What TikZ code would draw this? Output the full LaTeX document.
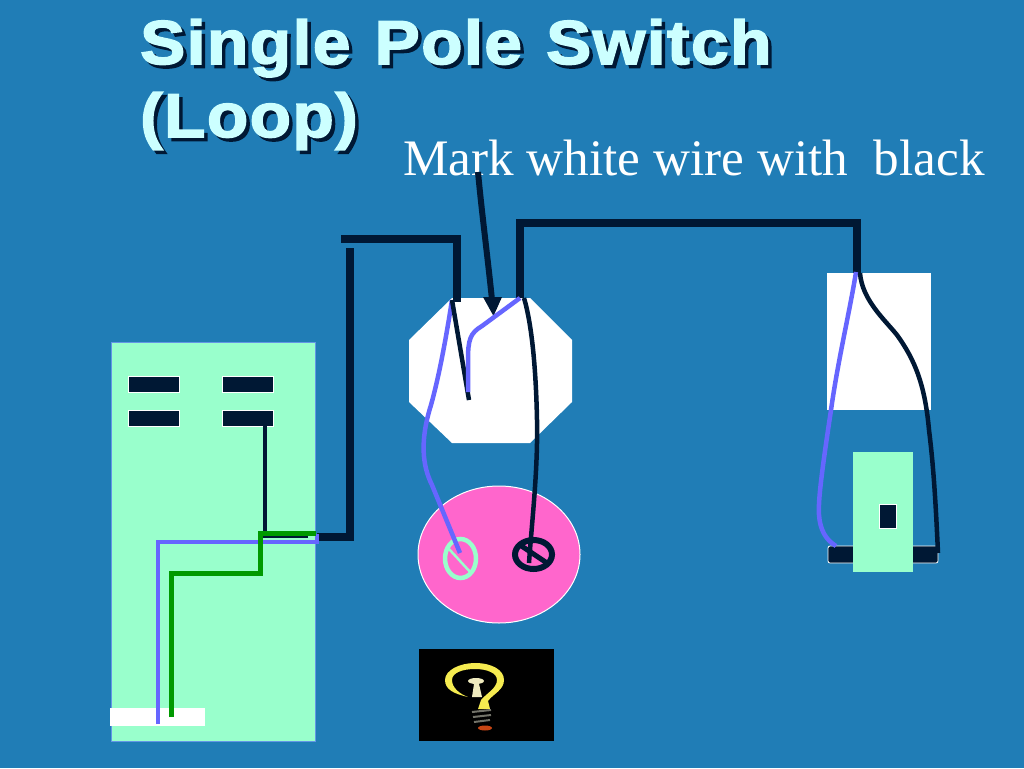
\documentclass[tikz,border=0pt]{standalone}
\usepackage{fontspec}
\newfontfamily\titlefont[LetterSpace=2.4,WordSpace=1.2,BoldFeatures={FakeBold=2.5,FakeStretch=1.09}]{Liberation Sans}
\newfontfamily\notefont{Liberation Serif}
\definecolor{bgblue}{RGB}{32,125,182}
\definecolor{mint}{RGB}{153,255,204}
\definecolor{navy}{RGB}{0,24,52}
\definecolor{wireblue}{RGB}{102,102,255}
\definecolor{wiregreen}{RGB}{0,153,0}
\definecolor{pink}{RGB}{255,102,204}
\definecolor{titlecol}{RGB}{204,255,255}
\definecolor{edgeblue}{RGB}{100,150,230}
\definecolor{bulbyellow}{RGB}{245,235,80}
\definecolor{filament}{RGB}{240,235,190}
\definecolor{basegray}{RGB}{115,115,105}
\definecolor{basered}{RGB}{200,70,20}
\newcommand{\shadowed}[1]{\rlap{\kern3.5pt\raisebox{-3.5pt}{\color{navy}#1}}{\color{titlecol}#1}}
\tikzset{
  x=1pt,y=-1pt,
  thickwire/.style={navy,line width=8pt,miter limit=10},
  bluewire/.style={wireblue,line width=4.5pt,line join=round},
  blackwire/.style={navy,line width=4.5pt,line join=round},
  greenwire/.style={wiregreen,line width=5pt},
  breaker/.style={fill=navy,draw=white,line width=0.5pt},
  terminal/.style={fill=navy,draw=white,line width=0.8pt,rounded corners=2pt},
  titletext/.style={inner sep=0pt,anchor=base west,font=\titlefont\bfseries\fontsize{62}{62}\selectfont},
}
\begin{document}
\begin{tikzpicture}
\useasboundingbox (0,0) rectangle (1024,768);
\fill[bgblue] (0,0) rectangle (1024,768);
% title and note
\node[titletext] (title1) at (140,64) {\shadowed{Single Pole Switch}};
\node[titletext] (title2) at (140,137) {\shadowed{(Loop)}};
\node[inner sep=0pt,anchor=base west,text=white,font=\notefont\fontsize{51.2}{51.2}\selectfont] (note) at (403,175) {Mark white wire with\ \ black};
% panel
\fill[mint,draw=edgeblue,line width=1pt] (111,342) rectangle (315,741);
\coordinate (panelIn) at (317,537);
\draw[breaker] (128,376) rectangle (179,392);
\draw[breaker] (222,376) rectangle (273,392);
\draw[breaker] (128,410) rectangle (179,426);
\draw[breaker] (222,410) rectangle (273,426);
\coordinate (brk) at (264.5,426);
\fill[white] (110,708) rectangle (205,726);
% junction box
\fill[white] (452,298)--(530,298)--(572,340)--(572,402)--(530,443)--(452,443)--(409,402)--(409,340)--cycle;
% lamp
\fill[pink,draw=white,line width=1pt] (499,554.5) ellipse [x radius=81,y radius=68.5];
\draw[mint,line width=4.5pt] (460.5,558.5) ellipse [x radius=15.5,y radius=19.5];
\draw[mint,line width=2.5pt] (449,549)--(472,574);
\draw[navy,line width=6pt] (533.5,554.5) ellipse [x radius=18.5,y radius=14.5];
\draw[navy,line width=5pt] (520,545)--(547,563);
% switch box
\fill[white] (827,273) rectangle (931,410);
\draw[terminal] (828,546) rectangle (856,563);
\draw[terminal] (910,546) rectangle (938,563);
\fill[mint] (853,452) rectangle (913,572);
\fill[navy,draw=white,line width=0.5pt] (879,504) rectangle (896,528);
% thick cables
\draw[thickwire] (panelIn)--(350,537)--(350,248);
\draw[thickwire] (341,239)--(457,239)--(457,302);
\draw[thickwire] (520,298)--(520,223)--(857,223)--(857,273);
% panel wires
\draw[navy,line width=4pt] (brk)--(264.5,536)--(308,536);
\draw[wireblue,line width=4pt,miter limit=10] (158,724)--(158,542)--(317,542)--(317,534);
\draw[greenwire] (171,717)--(171,573)--(260,573)--(260,533)--(316,533);
% pointer
\draw[navy,line width=6pt] (478,172)..controls (482,215) and (488,260) .. (492,300);
\fill[navy] (483,297)--(502,297)--(493.5,316)--cycle;
% junction wires
\draw[bluewire] (452,300)..controls (445,345) and (438,380) ..(431,405)
  ..controls (420,440) and (422,465) .. (432,485) -- (460,553);
\draw[blackwire] (452,300)--(469,400);
\draw[bluewire] (520,298)--(482,326) ..controls (470,333) and (468,340) .. (468,360)--(468,392);
\draw[blackwire] (524,298)..controls (532,325) and (536,370) .. (537,420)
  ..controls (538,470) and (532,520) .. (529,563);
% switch wires
\draw[bluewire] (856,272)..controls (850,310) and (838,360) .. (831,410)
  ..controls (822,470) and (818,500) .. (819,515) ..controls (820,530) and (826,540) .. (836,546);
\draw[blackwire] (860,273)..controls (862,300) and (885,320) .. (897,335)
  ..controls (915,360) and (925,385) .. (929,430) ..controls (934,470) and (936,510) .. (938,553);
% bulb picture
\fill[black] (419,649) rectangle (554,741);
\fill[bulbyellow] (468,697) .. controls (455,694) and (445,690) .. (445,680) .. controls (445,670) and (460,663) .. (475,663) .. controls (492,663) and (504,670) .. (504,680) .. controls (504,690) and (493,694) .. (488,701) -- (490,709) -- (478,709) -- (481,700) .. controls (487,693) and (497,688) .. (497,680) .. controls (497,673) and (487,669) .. (475,669) .. controls (462,669) and (452,673) .. (452,680) .. controls (452,688) and (460,694) .. (468,697) -- cycle;
\fill[filament] (476,681) ellipse [x radius=8,y radius=3];
\fill[filament] (474,684)--(479,684)--(482,697)--(472,697)--cycle;
\draw[basegray,line width=2pt] (472,712)--(491,710);
\draw[basegray,line width=2pt] (473,717)--(491,715);
\draw[basegray,line width=2pt] (474,722)--(490,720);
\fill[basered] (485,728) ellipse [x radius=7,y radius=2.5];
\end{tikzpicture}
\end{document}
